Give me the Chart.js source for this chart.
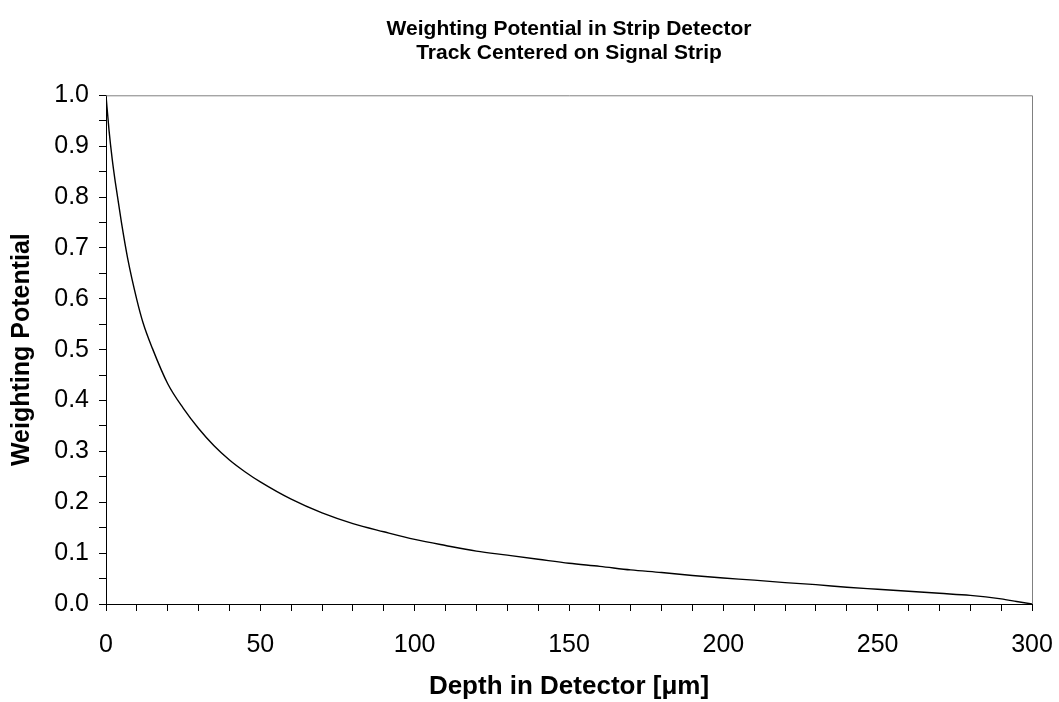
<!DOCTYPE html>
<html>
<head>
<meta charset="utf-8">
<script src="https://cdn.jsdelivr.net/npm/chart.js@4/dist/chart.umd.min.js"></script>
<style>
  html, body { margin: 0; padding: 0; background: #ffffff; }
  #wrap { width: 1059px; height: 702px; }
</style>
</head>
<body>
<div id="wrap"><canvas id="c" width="1059" height="702"></canvas></div>
<script>
// Depth in detector [µm]
const depth = [0, 1, 2, 3, 5, 7, 10, 12, 15, 20, 25, 30, 35, 40, 45, 50, 60, 70, 80, 90,
  100, 110, 120, 130, 140, 150, 160, 170, 180, 190, 200, 210, 220, 230, 240, 250,
  260, 270, 280, 285, 290, 295, 300];
// Weighting potential
const potential = [1.0, 0.93, 0.875, 0.83, 0.75, 0.68, 0.598, 0.553, 0.503, 0.433, 0.385, 0.345,
  0.311, 0.283, 0.26, 0.24, 0.206, 0.179, 0.158, 0.142, 0.127, 0.115, 0.104, 0.096,
  0.088, 0.080, 0.074, 0.067, 0.062, 0.056, 0.051, 0.047, 0.042, 0.038, 0.033, 0.029,
  0.025, 0.021, 0.017, 0.014, 0.010, 0.005, 0.0];

const titleLines = ['Weighting Potential in Strip Detector', 'Track Centered on Signal Strip'];
const xTitle = 'Depth in Detector [\u03BCm]';
const yTitle = 'Weighting Potential';

const FONT = '"Liberation Sans", Arial, Helvetica, sans-serif';

const frame = {
  id: 'frame',
  afterDraw(chart) {
    const {ctx, chartArea: a} = chart;
    ctx.save();
    ctx.strokeStyle = '#808080';
    ctx.lineWidth = 1;
    ctx.beginPath();
    ctx.moveTo(a.left, a.top + 0.5);
    ctx.lineTo(a.right + 0.5, a.top + 0.5);
    ctx.lineTo(a.right + 0.5, a.bottom);
    ctx.stroke();
    ctx.restore();
  }
};

new Chart(document.getElementById('c'), {
  type: 'line',
  data: {
    datasets: [{
      data: depth.map((d, i) => ({x: d, y: potential[i]})),
      borderColor: '#000000',
      borderWidth: 1.4,
      pointRadius: 0,
      cubicInterpolationMode: 'monotone',
      fill: false
    }]
  },
  options: {
    responsive: false,
    animation: false,
    devicePixelRatio: 1,
    layout: { padding: { left: 0, right: 27, top: 0, bottom: 0 } },
    plugins: {
      legend: { display: false },
      tooltip: { enabled: false },
      title: {
        display: true,
        fullSize: false,
        text: titleLines,
        color: '#000',
        font: { family: FONT, size: 21, weight: 'bold', lineHeight: 1.15 },
        padding: { top: 17, bottom: 30 }
      }
    },
    scales: {
      x: {
        type: 'linear',
        min: 0, max: 300,
        afterFit(s) { s.height = 98; s.paddingRight = 0; s.paddingLeft = 0; },
        border: { display: true, color: '#000', width: 1 },
        grid: { drawOnChartArea: false, drawTicks: true, tickLength: 7, color: '#000' },
        ticks: {
          stepSize: 10, autoSkip: false, maxRotation: 0, padding: 19,
          color: '#000',
          font: { family: FONT, size: 25 },
          callback: (v) => (Math.abs(v % 50) < 1e-6 ? String(v) : '')
        },
        title: {
          display: true, text: xTitle, color: '#000',
          font: { family: FONT, size: 26, weight: 'bold' },
          padding: { top: 0, bottom: 0 }
        }
      },
      y: {
        type: 'linear',
        min: 0, max: 1,
        afterFit(s) { s.width = 106; },
        border: { display: true, color: '#000', width: 1 },
        grid: { drawOnChartArea: false, drawTicks: true, tickLength: 7, color: '#000' },
        ticks: {
          stepSize: 0.05, autoSkip: false, maxTicksLimit: 100, padding: 10,
          color: '#000',
          font: { family: FONT, size: 25 },
          callback: (v) => {
            const t = Math.round(v * 100);
            return t % 10 === 0 ? (t / 100).toFixed(1) : '';
          }
        },
        title: {
          display: true, text: yTitle, color: '#000',
          font: { family: FONT, size: 25, weight: 'bold' },
          padding: { top: 7, bottom: 0 }
        }
      }
    }
  },
  plugins: [frame]
});
</script>
</body>
</html>
